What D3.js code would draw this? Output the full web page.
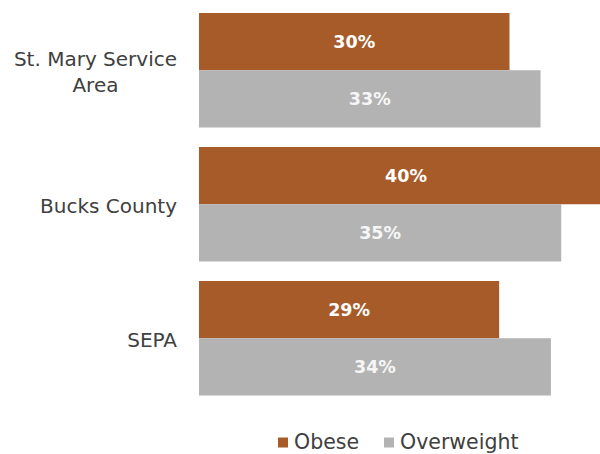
<!DOCTYPE html>
<html>
<head>
<meta charset="utf-8">
<script src="https://cdn.jsdelivr.net/npm/d3@7"></script>
<style>
  html, body { margin: 0; padding: 0; background: #fff; }
  svg { display: block; }
  text { font-family: "DejaVu Sans", "Lato", sans-serif; }
</style>
</head>
<body>
<svg id="chart" width="600" height="454"></svg>
<script>
// Categories (each may wrap onto several lines)
const categories = ["St. Mary Service Area", "Bucks County", "SEPA"];
const categoryLines = [["St. Mary Service", "Area"], ["Bucks County"], ["SEPA"]];
const seriesNames = ["Obese", "Overweight"];
const obese = [30, 40, 29];
const overweight = [33, 35, 34];
const colors = ["#A65B28", "#B3B3B3"];

const svg = d3.select("#chart");
const left = 199;

// value scale; the longest bar runs past the right edge and is clipped
const x = d3.scaleLinear().domain([0, 40]).range([left, 613]);

const y0 = d3.scaleBand()
  .domain(categories)
  .range([13, 395.5])
  .paddingInner(0.1455)
  .paddingOuter(0);

const y1 = d3.scaleBand()
  .domain(seriesNames)
  .range([0, y0.bandwidth()])
  .padding(0);

const rows = categories.map((c, i) => ({
  cat: c,
  values: [
    { s: "Obese", v: obese[i] },
    { s: "Overweight", v: overweight[i] }
  ]
}));

const groups = svg.append("g").selectAll("g.grp").data(rows).join("g")
  .attr("class", "grp")
  .attr("transform", d => `translate(0,${y0(d.cat)})`);

groups.selectAll("rect").data(d => d.values).join("rect")
  .attr("x", x(0))
  .attr("y", d => y1(d.s))
  .attr("width", d => x(d.v) - x(0))
  .attr("height", y1.bandwidth())
  .attr("fill", (d, i) => colors[i]);

groups.selectAll("text.val").data(d => d.values).join("text")
  .attr("class", "val")
  .attr("x", d => (x(0) + x(d.v)) / 2)
  .attr("y", d => y1(d.s) + y1.bandwidth() / 2)
  .attr("text-anchor", "middle")
  .attr("dominant-baseline", "central")
  .attr("fill", (d, i) => i === 0 ? "#FFFFFF" : "#F6F6F6")
  .attr("font-size", 17.5)
  .attr("font-weight", "bold")
  .text(d => d.v + "%");

// Category labels: right-aligned block, lines centred within it
categories.forEach((c, i) => {
  const lines = categoryLines[i];
  const cy = y0(c) + y0.bandwidth() / 2 + 1.5;
  const lh = 26;
  const t = svg.append("text")
    .attr("fill", "#404040")
    .attr("font-size", 20)
    .attr("dominant-baseline", "central");
  lines.forEach((ln, k) => {
    t.append("tspan").attr("x", 0).attr("y", cy + (k - (lines.length - 1) / 2) * lh).text(ln);
  });
  const spans = t.selectAll("tspan").nodes();
  const widths = spans.map(s => s.getComputedTextLength());
  const maxW = d3.max(widths);
  const right = 177;
  spans.forEach((s, k) => {
    d3.select(s).attr("x", right - maxW + (maxW - widths[k]) / 2);
  });
});

// Legend
const legend = svg.append("g").attr("transform", "translate(0,442)");
const legendX = [278, 384];
seriesNames.forEach((s, i) => {
  legend.append("rect")
    .attr("x", legendX[i]).attr("y", -4.5)
    .attr("width", 10).attr("height", 10)
    .attr("fill", colors[i]);
  legend.append("text")
    .attr("x", legendX[i] + 16).attr("y", 0)
    .attr("dominant-baseline", "central")
    .attr("fill", "#404040")
    .attr("font-size", 20.5)
    .text(s);
});
</script>
</body>
</html>
